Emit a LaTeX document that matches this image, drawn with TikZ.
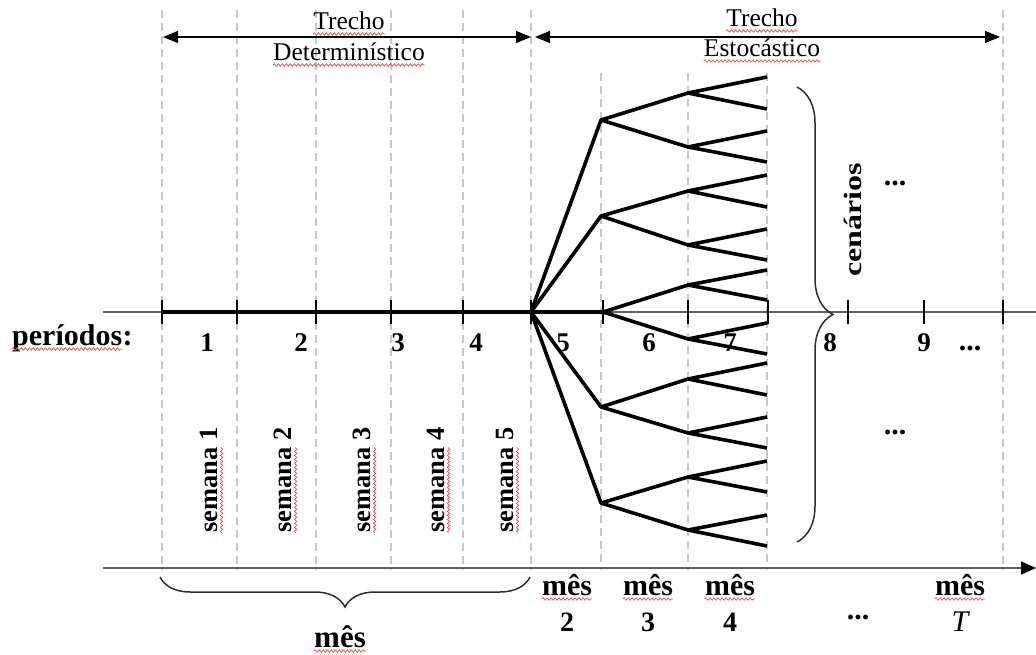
\documentclass[tikz,border=0pt]{standalone}
\usepackage{fontspec}
\setmainfont{Liberation Serif}
\usetikzlibrary{arrows.meta,decorations.pathreplacing,decorations.pathmorphing,calc}

\definecolor{guide}{RGB}{200,200,200}
\definecolor{axisgray}{RGB}{95,95,95}
\definecolor{bracegray}{RGB}{45,45,45}
\definecolor{spell}{RGB}{214,96,96}

\tikzset{
  guideline/.style={draw=guide, line width=1.2pt, dash pattern=on 8pt off 5pt},
  axisline/.style={draw=axisgray, line width=1.5pt},
  branch/.style={line width=3.6pt, line join=round},
  tickmark/.style={line width=1.4pt},
  span/.style={line width=1.2pt,
    {Triangle[length=15pt,width=12pt]}-{Triangle[length=15pt,width=12pt]}},
  curly/.style={draw=bracegray, line width=1.5pt, decorate},
  spellwave/.style={draw=spell, line width=0.8pt, decorate,
    decoration={snake, segment length=4pt, amplitude=1.2pt}},
  toptext/.style={font=\fontsize{25.5}{30}\selectfont, inner sep=0pt, anchor=base},
  period/.style={font=\fontsize{27}{30}\selectfont\bfseries, inner sep=0pt, anchor=base},
  week/.style={font=\fontsize{26.4}{30}\selectfont\bfseries, inner sep=0pt, rotate=90},
  month/.style={font=\fontsize{30}{34}\selectfont\bfseries, inner sep=0pt, anchor=base},
  monthnum/.style={font=\fontsize{28}{32}\selectfont\bfseries, inner sep=0pt, anchor=base},
  dots/.style={font=\fontsize{30}{34}\selectfont\bfseries, inner sep=0pt},
}

\begin{document}
\begin{tikzpicture}[x=1pt,y=-1pt]
\useasboundingbox (0,0) rectangle (1036,655);

% vertical guides of the periods
\foreach \gx in {162,237,316,391,463,531,1003}
  \draw[guideline] (\gx,10) -- (\gx,570);
\foreach \gx in {601,688,767}
  \draw[guideline] (\gx,73) -- (\gx,570);

% horizon spans
\coordinate (d0) at (163,37);
\coordinate (d1) at (531,37);
\coordinate (s0) at (535,37);
\coordinate (s1) at (1000,37);
\draw[span] (d0) -- (d1);
\draw[span] (s0) -- (s1);
\node[toptext] (dtA) at (349,30) {Trecho};
\node[toptext] (dtB) at (349,61) {Determinístico};
\node[toptext] (stA) at (762,27) {Trecho};
\node[toptext] (stB) at (762,57) {Estocástico};

% period axis
\coordinate (ax0) at (103,312);
\coordinate (ax1) at (1036,312);
\draw[axisline] (ax0) -- (ax1);
\coordinate (det0) at (162,312);
\coordinate (r) at (531,312);
\draw[line width=4pt] (det0) -- (r);

% month axis
\coordinate (mx0) at (103,568);
\coordinate (mx1) at (1036,568);
\draw[axisline, -{Triangle[length=15pt,width=13pt,black]}] (mx0) -- (mx1);

% scenario tree
\coordinate (a1) at (601,120);
\coordinate (a2) at (601,216);
\coordinate (a3) at (603,312);
\coordinate (a4) at (601,407);
\coordinate (a5) at (601,503);
\foreach \n/\y in {1/93,2/147,3/191,4/245,5/285,6/339,7/379,8/433,9/477,10/530}
  \coordinate (b\n) at (688,\y);
\foreach \n/\y in {1/77,2/109,3/131,4/162,5/175,6/207,7/229,8/260,9/270,10/300,
                   11/323,12/354,13/363,14/395,15/417,16/448,17/461,18/492,19/515,20/546}
  \coordinate (c\n) at (767,\y);

\foreach \i in {1,...,5}
  \draw[branch] (r) -- (a\i);
\foreach \i in {1,...,5}{
  \pgfmathtruncatemacro{\up}{2*\i-1}
  \pgfmathtruncatemacro{\dn}{2*\i}
  \draw[branch] (b\up) -- (a\i) -- (b\dn);
}
\foreach \i in {1,...,10}{
  \pgfmathtruncatemacro{\up}{2*\i-1}
  \pgfmathtruncatemacro{\dn}{2*\i}
  \draw[branch] (c\up) -- (b\i) -- (c\dn);
}

% tick marks on the period axis
\foreach \tx in {162,237,316,391,463,531,603,688,768,848,924,1003}
  \draw[tickmark] (\tx,300) -- (\tx,324);

% period labels
\node[font=\fontsize{30}{34}\selectfont\bfseries, inner sep=0pt, anchor=base west]
  (plabel) at (12,345) {períodos};
\node[font=\fontsize{30}{34}\selectfont\bfseries, inner sep=0pt, anchor=base west]
  (pcolon) at (plabel.base east) {:};
\foreach \k/\px in {1/207,2/301,3/398,4/476,5/563,6/649,7/730,8/830,9/924}
  \node[period] (p\k) at (\px,351) {\k};
\node[dots] (pdots) at (970,348) {...};

% weeks of the first month
\foreach \k/\wx in {1/209,2/283,3/362,4/436,5/505}{
  \node[week] (w\k) at (\wx,480) {semana~\k};
  \draw[spellwave] ($(w\k.base west)+(4,0)$) -- ($(w\k.base west)!0.811!(w\k.base east)+(4,0)$);
}

% scenarios
\coordinate (cb0) at (797,87);
\coordinate (cb1) at (797,542);
\draw[curly, decoration={brace, amplitude=36pt}] (cb0) -- (cb1);
\node[font=\fontsize{25}{30}\selectfont\bfseries, inner sep=0pt, rotate=90]
  (cen) at (853,220) {\scalebox{1.28}[1]{cenários}};
\node[dots] (updots) at (895,183) {...};
\node[dots] (lowdots) at (895,432) {...};

% months
\coordinate (mb0) at (530,577);
\coordinate (mb1) at (160,577);
\draw[curly, decoration={brace, amplitude=30pt}] (mb0) -- (mb1);
\node[font=\fontsize{31}{34}\selectfont\bfseries, inner sep=0pt, anchor=base]
  (m1) at (340,647) {mês};
\foreach \k/\mx in {2/567,3/648,4/730}{
  \node[month] (m\k) at (\mx,595) {mês};
  \node[monthnum] (n\k) at (\mx,631) {\k};
}
\node[dots] (mdots) at (858,617) {...};
\node[month] (mT) at (960,595) {mês};
\node[font=\fontsize{30}{34}\selectfont\itshape, inner sep=0pt, anchor=base]
  (nT) at (960,631) {T};

% spell-check underlines
\foreach \w in {dtA,dtB,stA,stB,plabel,m1,m2,m3,m4,mT}
  \draw[spellwave] ($(\w.base west)+(0,4)$) -- ($(\w.base east)+(0,4)$);
\end{tikzpicture}
\end{document}
